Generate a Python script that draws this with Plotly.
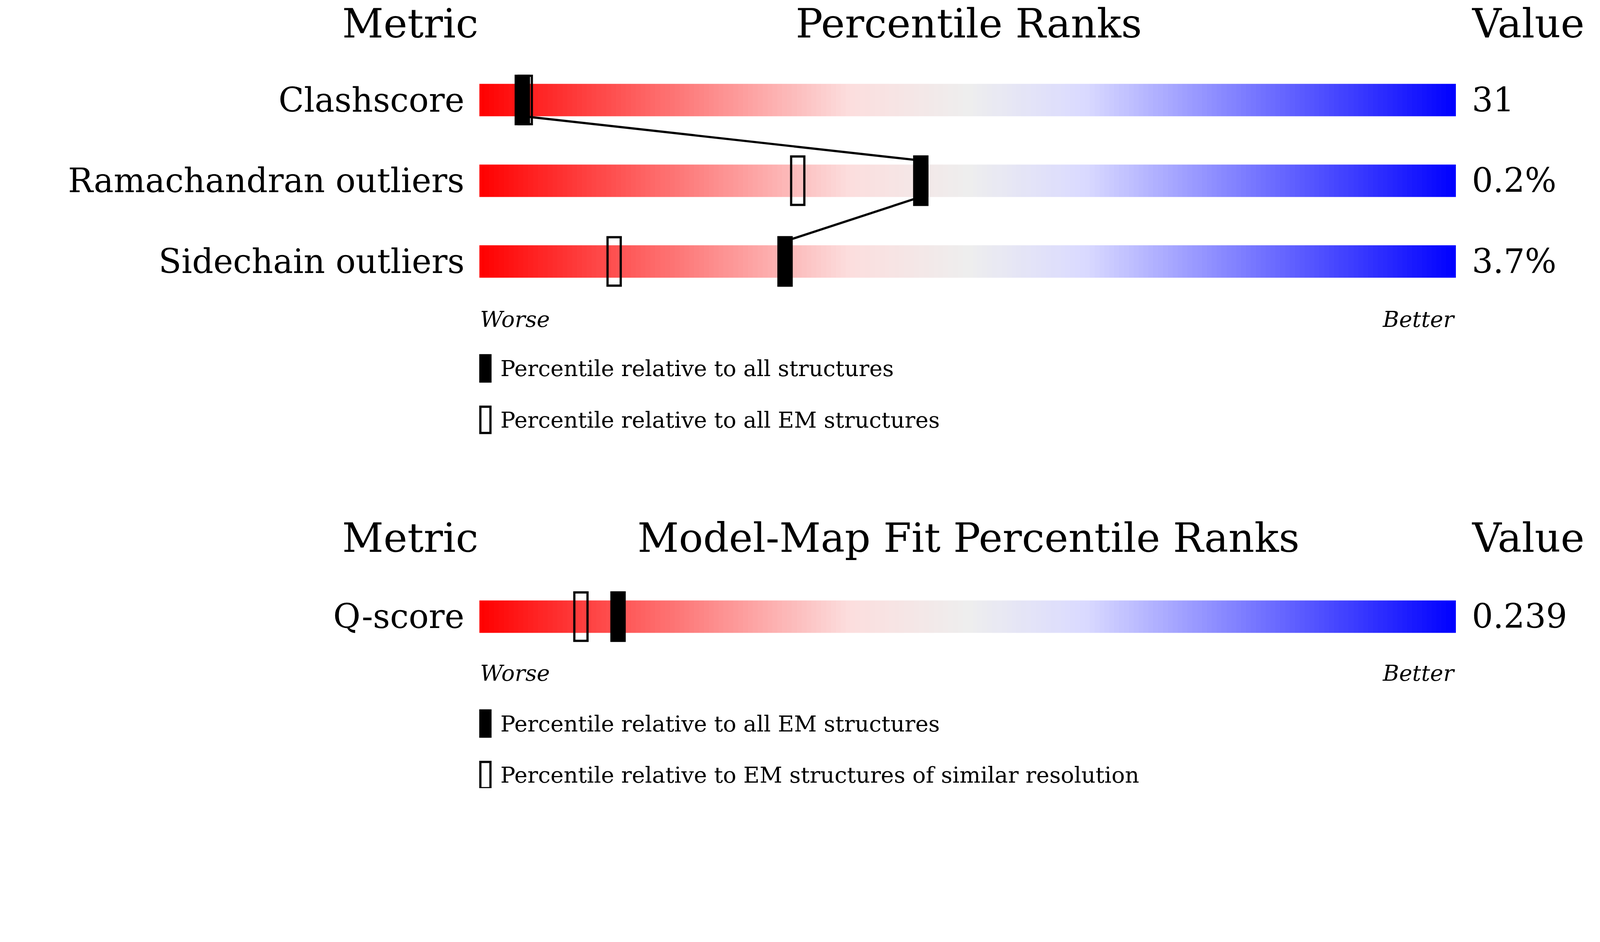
import plotly.graph_objects as go

W, H = 4050, 2010
S = W / 1568.0  # reference display scale

metrics = ["Clashscore", "Ramachandran outliers", "Sidechain outliers"]
values = ["31", "0.2%", "3.7%"]
pct_all = [4.4, 45.2, 31.3]
pct_em = [4.7, 32.6, 13.8]
bar_y = [96, 176, 256]

fit_metrics = ["Q-score"]
fit_values = ["0.239"]
fit_pct_all = [14.2]
fit_pct_sim = [10.4]
fit_bar_y = [608]

legend1 = ["Percentile relative to all structures", "Percentile relative to all EM structures"]
legend2 = ["Percentile relative to all EM structures", "Percentile relative to EM structures of similar resolution"]

cscale = [[0, "rgb(255,0,0)"], [0.38, "rgb(252,222,222)"], [0.5, "rgb(238,238,238)"],
          [0.62, "rgb(218,218,255)"], [1, "rgb(0,0,255)"]]

fig = go.Figure()
xs = [i * 0.5 + 0.25 for i in range(200)]
for yc in bar_y + fit_bar_y:
    fig.add_trace(go.Heatmap(x=xs, y=[yc - 8, yc + 8], z=[xs, xs], zmin=0, zmax=100,
                             colorscale=cscale, showscale=False, hoverinfo="skip"))

MW = 1.35
MH = 24
def marker(p, yc, filled):
    fig.add_shape(type="rect", xref="x", yref="y", x0=p - MW / 2, x1=p + MW / 2,
                  y0=yc - MH, y1=yc + MH, line=dict(color="black", width=2.2 * S),
                  fillcolor="black" if filled else "rgba(0,0,0,0)")

for p, q, yc in zip(pct_all, pct_em, bar_y):
    marker(q, yc, False)
    marker(p, yc, True)
for p, q, yc in zip(fit_pct_all, fit_pct_sim, fit_bar_y):
    marker(q, yc, False)
    marker(p, yc, True)

lx, ly = [], []
for i in range(len(pct_all) - 1):
    lx += [pct_all[i], pct_all[i + 1], None]
    ly += [bar_y[i] + 16, bar_y[i + 1] - 20, None]
fig.add_trace(go.Scatter(x=lx, y=ly, mode="lines", line=dict(color="black", width=2.2 * S),
                         hoverinfo="skip", showlegend=False))

x0p, x1p = 472 / 1568, 1440 / 1568
font = "DejaVu Serif"
def ann(text, xp, y, size, anchor, italic=False):
    fig.add_annotation(x=xp, y=y, xref="paper", yref="y", text=text, showarrow=False,
                       xanchor=anchor, yanchor="middle",
                       font=dict(family=font, size=size * S, color="black",
                                 style="italic" if italic else "normal"))

def header(y, mid):
    ann("Metric", 472 / 1568, y, 40, "right")
    ann(mid, 957 / 1568, y, 40, "center")
    ann("Value", 1568 / 1568, y, 40, "right")

header(20, "Percentile Ranks")
header(530, "Model-Map Fit Percentile Ranks")
for m, v, yc in zip(metrics + fit_metrics, values + fit_values, bar_y + fit_bar_y):
    ann(m, 458 / 1568, yc, 33, "right")
    ann(v, 1455 / 1568, yc, 33, "left")
for yw in [313, 664]:
    ann("Worse", x0p, yw, 22, "left", True)
    ann("Better", x1p, yw, 22, "right", True)

def legend(texts, ys):
    for i, (t, y) in enumerate(zip(texts, ys)):
        fig.add_shape(type="rect", xref="paper", yref="y", x0=473 / 1568, x1=483 / 1568,
                      y0=y - 13, y1=y + 13, line=dict(color="black", width=2.2 * S),
                      fillcolor="black" if i == 0 else "rgba(0,0,0,0)")
        ann(t, 492 / 1568, y, 22, "left")
legend(legend1, [362, 413])
legend(legend2, [714, 765])

fig.update_layout(width=W, height=H, margin=dict(l=0, r=0, t=0, b=0),
                  plot_bgcolor="white", paper_bgcolor="white", showlegend=False,
                  xaxis=dict(domain=[x0p, x1p], range=[0, 100], visible=False),
                  yaxis=dict(range=[778, 0], visible=False))
fig.write_html("out.html")
